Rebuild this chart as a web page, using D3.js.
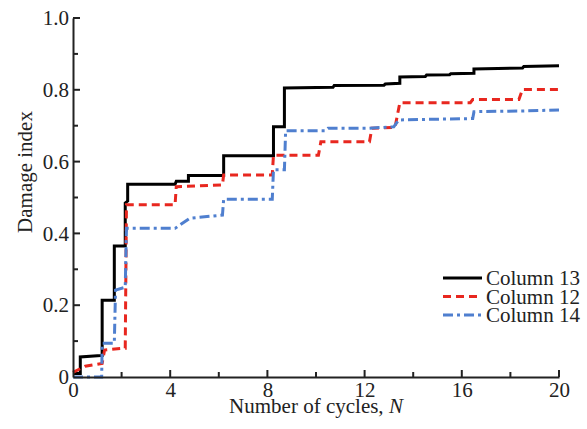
<!DOCTYPE html>
<html>
<head>
<meta charset="utf-8">
<script src="https://cdn.jsdelivr.net/npm/d3@7"></script>
<style>
  html, body { margin: 0; padding: 0; background: #fff; }
  svg text { font-family: "Liberation Serif", "Times New Roman", serif; fill: #222; }
</style>
</head>
<body>
<div id="chart"></div>
<script>
// damage index vs cycles
const column13 = [[0,0.01],[0.3,0.01],[0.3,0.056],[1.15,0.06],[1.2,0.06],[1.2,0.214],[1.7,0.214],[1.7,0.365],
  [2.15,0.365],[2.15,0.485],[2.25,0.49],[2.25,0.537],[4.2,0.537],[4.25,0.545],[4.75,0.545],[4.75,0.561],
  [6.2,0.561],[6.2,0.616],[8.25,0.616],[8.25,0.697],[8.7,0.697],[8.7,0.805],[10.7,0.807],[10.75,0.812],
  [12.8,0.813],[12.85,0.816],[13.45,0.818],[13.45,0.836],[14.5,0.837],[14.55,0.841],[15.5,0.842],[15.55,0.845],
  [16.5,0.846],[16.5,0.858],[18.5,0.861],[18.55,0.865],[20,0.867]];
const column12 = [[0,0.013],[0.5,0.03],[1.2,0.038],[1.3,0.075],[2.05,0.08],[2.15,0.08],[2.2,0.48],[4.2,0.48],
  [4.25,0.53],[6.15,0.535],[6.2,0.563],[8.2,0.563],[8.25,0.618],[10.1,0.618],[10.2,0.655],[12.2,0.655],
  [12.3,0.693],[13.25,0.695],[13.45,0.764],[16.35,0.764],[16.45,0.773],[18.35,0.773],[18.5,0.801],[20,0.801]];
const column14 = [[0,0],[1.18,0],[1.2,0.094],[1.7,0.094],[1.75,0.242],[2.15,0.25],[2.2,0.414],[4.2,0.414],
  [4.8,0.442],[6.15,0.451],[6.2,0.495],[8.2,0.495],[8.25,0.577],[8.7,0.577],[8.75,0.686],[10.4,0.686],
  [10.5,0.693],[12.2,0.693],[13.2,0.697],[13.4,0.716],[16.45,0.72],[16.5,0.739],[18.45,0.741],[20,0.744]];

const seriesNames = ['Column 13', 'Column 12', 'Column 14'];
const xTicks = [0, 4, 8, 12, 16, 20];
const xMinorTicks = [2, 6, 10, 14, 18];
const yTicks = [0, 0.2, 0.4, 0.6, 0.8, 1.0];
const yMinorTicks = [0.1, 0.3, 0.5, 0.7, 0.9];

const width = 587, height = 429;
const margin = { top: 18, right: 28, bottom: 52, left: 73 };

const x = d3.scaleLinear().domain([0, 20]).range([margin.left, width - margin.right]);
const y = d3.scaleLinear().domain([0, 1]).range([height - margin.bottom, margin.top]);

const svg = d3.select('#chart').append('svg')
  .attr('width', width)
  .attr('height', height);

const styles = [
  { color: '#000000', dash: null },
  { color: '#e8271f', dash: '8,5' },
  { color: '#4f7fcf', dash: '10,4,3,4' }
];

// lines first, axes on top
const line = d3.line().x(d => x(d[0])).y(d => y(d[1]));
[column13, column12, column14].forEach((data, i) => {
  svg.append('path')
    .datum(data)
    .attr('d', line)
    .attr('fill', 'none')
    .attr('stroke', styles[i].color)
    .attr('stroke-width', 3)
    .attr('stroke-dasharray', styles[i].dash);
});

// axis lines and labels (ticks drawn separately, pointing inward)
const xAxis = svg.append('g')
  .attr('transform', `translate(0,${y(0)})`)
  .call(d3.axisBottom(x).tickValues(xTicks).tickSize(0).tickPadding(5).tickFormat(d3.format('d')));
const yAxis = svg.append('g')
  .attr('transform', `translate(${x(0)},0)`)
  .call(d3.axisLeft(y).tickValues(yTicks).tickSize(0).tickPadding(4)
    .tickFormat(d => d === 0 ? '0' : d3.format('.1f')(d)));

svg.selectAll('.domain').attr('stroke', '#222').attr('stroke-width', 2);
[xAxis, yAxis].forEach(g => g.selectAll('.tick text')
  .attr('font-family', '"Liberation Serif", serif')
  .attr('font-size', 21)
  .attr('fill', '#222'));

const ticks = svg.append('g').attr('stroke', '#222').attr('stroke-width', 2);
ticks.selectAll('line.xt')
  .data(xTicks.filter(d => d > 0).map(v => ({ v, len: 7 })).concat(xMinorTicks.map(v => ({ v, len: 5 }))))
  .join('line')
  .attr('class', 'xt')
  .attr('x1', d => x(d.v)).attr('x2', d => x(d.v))
  .attr('y1', y(0)).attr('y2', d => y(0) - d.len);
ticks.selectAll('line.yt')
  .data(yTicks.filter(d => d > 0).map(v => ({ v, len: 7 })).concat(yMinorTicks.map(v => ({ v, len: 5 }))))
  .join('line')
  .attr('class', 'yt')
  .attr('y1', d => y(d.v)).attr('y2', d => y(d.v))
  .attr('x1', x(0)).attr('x2', d => x(0) + d.len);

// axis titles
const xTitle = svg.append('text')
  .attr('x', (x(0) + x(20)) / 2)
  .attr('y', 413)
  .attr('text-anchor', 'middle')
  .attr('font-size', 21);
xTitle.append('tspan').text('Number of cycles, ');
xTitle.append('tspan').attr('font-style', 'italic').text('N');

svg.append('text')
  .attr('transform', 'translate(32,172) rotate(-90)')
  .attr('text-anchor', 'middle')
  .attr('font-size', 21)
  .text('Damage index');

// legend
const legend = svg.append('g').attr('transform', 'translate(443,278)');
seriesNames.forEach((name, i) => {
  const row = legend.append('g').attr('transform', `translate(0,${i * 18.5})`);
  row.append('line')
    .attr('x1', 0).attr('x2', 39)
    .attr('stroke', styles[i].color)
    .attr('stroke-width', 3)
    .attr('stroke-dasharray', styles[i].dash);
  row.append('text')
    .attr('x', 43)
    .attr('y', 7)
    .attr('font-size', 21)
    .text(name);
});
</script>
</body>
</html>
